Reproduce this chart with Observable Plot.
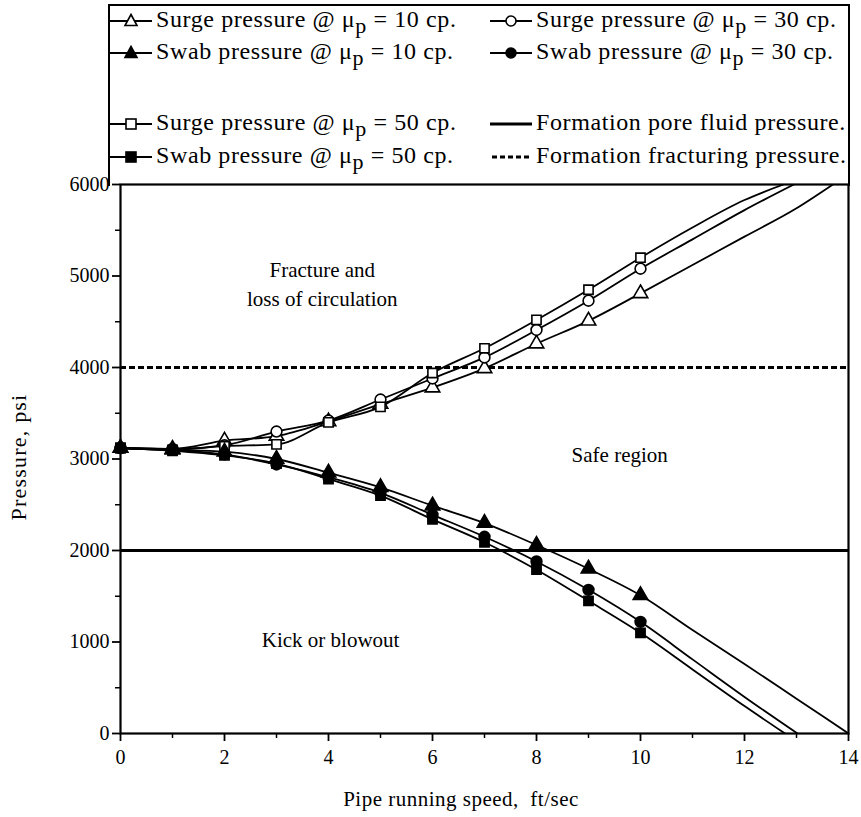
<!DOCTYPE html>
<html><head><meta charset="utf-8">
<script src="https://cdn.jsdelivr.net/npm/d3@7"></script>
<script src="https://cdn.jsdelivr.net/npm/@observablehq/plot@0.6"></script>
<style>
body{margin:0;background:#fff;}
#wrap{position:relative;width:861px;height:817px;font-family:"Liberation Serif","DejaVu Serif",serif;color:#000;overflow:hidden;background:#fff;}
#legend{position:absolute;left:108px;top:4px;width:742px;height:182px;border:2px solid #000;border-bottom:none;box-sizing:border-box;z-index:2;}
.item{position:absolute;font-size:24px;white-space:nowrap;line-height:24px;letter-spacing:0.6px;}
.item svg{vertical-align:middle;margin-right:4px;}
.item sub{font-size:22px;position:relative;top:6px;vertical-align:baseline;}
#chart{position:absolute;left:0;top:160px;z-index:1;}
.lab{position:absolute;font-size:21px;white-space:nowrap;letter-spacing:0.5px;}
</style></head>
<body><div id="wrap"><div id="chart"></div><div id="legend"></div>
<div class="lab" id="xlab" style="left:0;width:922px;text-align:center;top:787px;">Pipe running speed,&nbsp; ft/sec</div>
<div class="lab" id="ylab" style="left:19px;top:457px;font-size:22px;letter-spacing:1.2px;transform:translate(-50%,-50%) rotate(-90deg);">Pressure, psi</div>
</div>
<script>
// ---------- data ----------
const speeds = [0,1,2,3,4,5,6,7,8,9,10];
const surge10 = [3120,3110,3200,3250,3410,3600,3780,3990,4260,4510,4810];
const surge30 = [3120,3110,3150,3300,3420,3650,3880,4110,4410,4730,5080];
const surge50 = [3120,3100,3140,3160,3400,3570,3940,4210,4520,4850,5200];
const swab10  = [3120,3100,3080,3000,2850,2690,2490,2300,2060,1800,1510];
const swab30  = [3120,3100,3050,2940,2800,2630,2390,2150,1880,1570,1220];
const swab50  = [3120,3090,3040,2950,2780,2600,2340,2090,1790,1450,1100];
// curve continuations beyond the last marker
const surge10TailX = [11,12,13,13.7], surge10TailY = [5120,5430,5740,6000];
const surge30TailX = [11,12,12.95],   surge30TailY = [5400,5720,6000];
const surge50TailX = [11,12,12.75],   surge50TailY = [5530,5830,6000];
const swab10TailX  = [11,12,13,14],   swab10TailY  = [1130,760,380,0];
const swab30TailX  = [11,12,13.02],   swab30TailY  = [810,400,0];
const swab50TailX  = [11,12,12.78],   swab50TailY  = [700,300,0];
const porePressure = 2000;
const fracPressure = 4000;
const xTicks = [0,2,4,6,8,10,12,14];
const xMinor = [1,3,5,7,9,11,13];
const yTicks = [0,1000,2000,3000,4000,5000,6000];
const yMinor = [500,1500,2500,3500,4500,5500];
const regionLabels = [
  {x:3.88, y:4930, text:"Fracture and\nloss of circulation"},
  {x:9.6, y:3070, text:"Safe region"},
  {x:4.04, y:1050, text:"Kick or blowout"}
];
const series = [
  {name:"Surge pressure @ μ", visc:"10", y:surge10, tx:surge10TailX, ty:surge10TailY, symbol:"triangle", fill:"white"},
  {name:"Swab pressure @ μ",  visc:"10", y:swab10,  tx:swab10TailX,  ty:swab10TailY,  symbol:"triangle", fill:"black"},
  {name:"Surge pressure @ μ", visc:"50", y:surge50, tx:surge50TailX, ty:surge50TailY, symbol:"square", fill:"white"},
  {name:"Swab pressure @ μ",  visc:"50", y:swab50,  tx:swab50TailX,  ty:swab50TailY,  symbol:"square", fill:"black"},
  {name:"Surge pressure @ μ", visc:"30", y:surge30, tx:surge30TailX, ty:surge30TailY, symbol:"circle", fill:"white"},
  {name:"Swab pressure @ μ",  visc:"30", y:swab30,  tx:swab30TailX,  ty:swab30TailY,  symbol:"circle", fill:"black"}
];
// drawing order of the markers (filled squares end on top)
const dotOrder = [0, 4, 2, 1, 5, 3];

// ---------- build rows ----------
const lineRows = [];
series.forEach((s,i) => {
  speeds.forEach((x,j) => lineRows.push({k:i, x, y:s.y[j]}));
  s.tx.forEach((x,j) => lineRows.push({k:i, x, y:s.ty[j]}));
});
const dotMarks = dotOrder.map(i => series[i]).map(s => Plot.dot(speeds.map((x,j)=>({x, y:s.y[j]})), {
  x:"x", y:"y", symbol:s.symbol, r: s.symbol==="square"?5.2:5.4, fill:s.fill, stroke:"black", strokeWidth:1.6
}));

const chart = Plot.plot({
  width: 861, height: 657,
  marginLeft: 120, marginRight: 13, marginTop: 24, marginBottom: 84,
  style: {fontFamily: '"Liberation Serif","DejaVu Serif",serif', fontSize: "20px", background: "transparent", color: "black"},
  x: {domain: [0,14]},
  y: {domain: [0,6000]},
  marks: [
    Plot.ruleY([porePressure], {stroke:"black", strokeWidth:3}),
    Plot.ruleY([fracPressure], {stroke:"black", strokeWidth:3, strokeDasharray:"6,3"}),
    Plot.line(lineRows, {x:"x", y:"y", z:"k", stroke:"black", strokeWidth:1.8, curve:"monotone-x", clip:true}),
    ...dotMarks,
    Plot.text(regionLabels, {x:"x", y:"y", text:"text", fontSize:21, lineHeight:1.4, fill:"black", letterSpacing:0.6}),
    Plot.axisX({ticks: xTicks, tickSize: 8, tickPadding: 8, label: null, tickFormat: d => String(d), strokeWidth:1.8}),
    Plot.axisX({ticks: xMinor, tickSize: 5, label: null, tickFormat: () => "", strokeWidth:1.5}),
    Plot.axisY({ticks: yTicks, tickSize: 8, tickPadding: 3, label: null, tickFormat: d => String(d), strokeWidth:1.8}),
    Plot.axisY({ticks: yMinor, tickSize: 5, label: null, tickFormat: () => "", strokeWidth:1.5}),
    Plot.frame({stroke:"black", strokeWidth:2.2})
  ]
});
document.getElementById("chart").appendChild(chart);

// ---------- legend (HTML) ----------
function swatch(kind, symbol, fill) {
  const w = 42, h = 24, cy = h/2;
  let s = `<svg width="${w}" height="${h}">`;
  if (kind === "dash") s += `<line x1="2" x2="${w}" y1="${cy}" y2="${cy}" stroke="black" stroke-width="3" stroke-dasharray="5,3"/>`;
  else s += `<line x1="0" x2="${w}" y1="${cy}" y2="${cy}" stroke="black" stroke-width="${kind==='solid'?3:1.8}"/>`;
  const cx = w/2;
  if (symbol === "triangle") s += `<path d="M${cx},${cy-6.5}L${cx+6},${cy+4.5}L${cx-6},${cy+4.5}Z" fill="${fill}" stroke="black" stroke-width="1.6"/>`;
  if (symbol === "circle") s += `<circle cx="${cx}" cy="${cy}" r="5" fill="${fill}" stroke="black" stroke-width="1.6"/>`;
  if (symbol === "square") s += `<rect x="${cx-5}" y="${cy-5}" width="10" height="10" fill="${fill}" stroke="black" stroke-width="1.6"/>`;
  return s + `</svg>`;
}
const legendRowsY = [1, 33, 104, 137];
const legendColX = [0, 380];
const legendItems = [
  {col:0,row:0, s:series[0]}, {col:0,row:1, s:series[1]}, {col:0,row:2, s:series[2]}, {col:0,row:3, s:series[3]},
  {col:1,row:0, s:series[4]}, {col:1,row:1, s:series[5]},
  {col:1,row:2, line:"solid", text:"Formation pore fluid pressure."},
  {col:1,row:3, line:"dash", text:"Formation fracturing pressure."}
];
const legend = document.getElementById("legend");
legendItems.forEach(it => {
  const d = document.createElement("div");
  d.className = "item";
  d.style.left = legendColX[it.col] + "px";
  d.style.top = legendRowsY[it.row] + "px";
  if (it.s) d.innerHTML = swatch("series", it.s.symbol, it.s.fill) + `${it.s.name}<sub>p</sub> = ${it.s.visc} cp.`;
  else d.innerHTML = swatch(it.line) + it.text;
  legend.appendChild(d);
});
</script>
</body></html>
